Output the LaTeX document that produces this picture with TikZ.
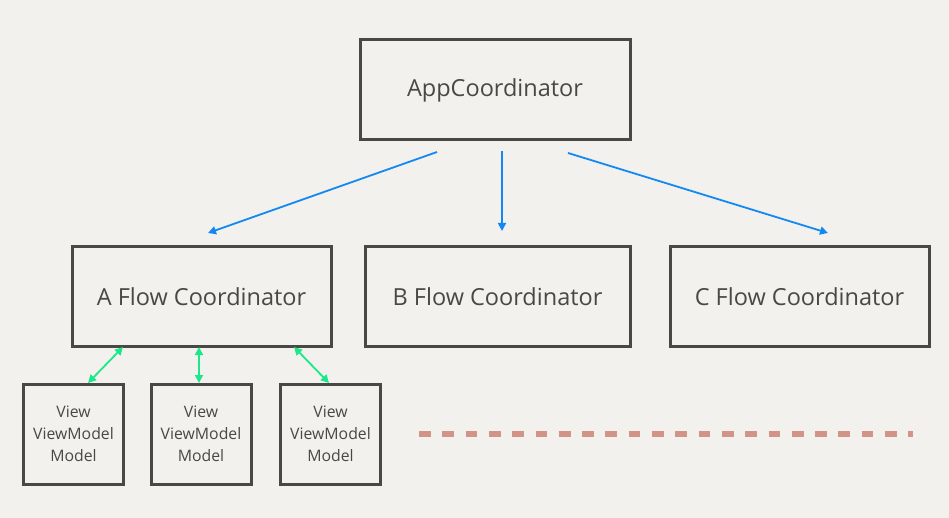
\documentclass[tikz,border=0pt]{standalone}
\usepackage{fontspec}
\setmainfont{Open Sans}
\usetikzlibrary{arrows.meta}
\definecolor{bg}{HTML}{F2F1EE}
\definecolor{ink}{HTML}{4A4845}
\definecolor{bl}{HTML}{1188F2}
\definecolor{gr}{HTML}{1CE88A}
\definecolor{dsh}{HTML}{D39488}
\tikzset{
  bigbox/.style={draw=ink, line width=3pt, text=ink, font=\fontsize{23.5}{27}\selectfont, inner sep=0pt},
  smallbox/.style={draw=ink, line width=3pt, text=ink, font=\fontsize{15.8}{22}\selectfont, align=center, minimum width=100pt, minimum height=100pt, inner sep=0pt},
  bluearrow/.style={bl, line width=1.8pt, -{Triangle[length=8pt,width=8pt]}},
  greenarrow/.style={gr, line width=1.8pt, {Triangle[length=8pt,width=8pt]}-{Triangle[length=8pt,width=8pt]}},
}
\begin{document}
\begin{tikzpicture}[x=1pt,y=-1pt]
\fill[bg] (0,0) rectangle (949,518);
\useasboundingbox (0,0) rectangle (949,518);
\node[bigbox, minimum width=270pt, minimum height=100pt] (app) at (495,90) {AppCoordinator};
\node[bigbox, minimum width=259pt, minimum height=99pt] (A) at (201.5,296.5) {A Flow Coordinator};
\node[bigbox, minimum width=265pt, minimum height=99pt] (B) at (497.5,296.5) {B Flow Coordinator};
\node[bigbox, minimum width=259pt, minimum height=99pt] (C) at (799.5,296.5) {C Flow Coordinator};
\node[smallbox] (m1) at (73.5,434) {View\\ViewModel\\Model};
\node[smallbox] (m2) at (201,434) {View\\ViewModel\\Model};
\node[smallbox] (m3) at (330.5,434) {View\\ViewModel\\Model};
\coordinate (s1) at (437,152);
\coordinate (s2) at (502,151);
\coordinate (s3) at (568,153);
\coordinate (e1) at (208,233);
\coordinate (e2) at (502,231);
\coordinate (e3) at (828,233);
\draw[bluearrow] (s1) -- (e1);
\draw[bluearrow] (s2) -- (e2);
\draw[bluearrow] (s3) -- (e3);
\coordinate (g1a) at (123,347);
\coordinate (g1b) at (88,383);
\coordinate (g2a) at (199,347);
\coordinate (g2b) at (199,383);
\coordinate (g3a) at (294,347);
\coordinate (g3b) at (329,383);
\draw[greenarrow] (g1a) -- (g1b);
\draw[greenarrow] (g2a) -- (g2b);
\draw[greenarrow] (g3a) -- (g3b);
\coordinate (d1) at (419,434);
\coordinate (d2) at (913,434);
\draw[dsh, line width=6pt, dash pattern=on 11.7pt off 11.6pt] (d1) -- (d2);
\end{tikzpicture}
\end{document}
